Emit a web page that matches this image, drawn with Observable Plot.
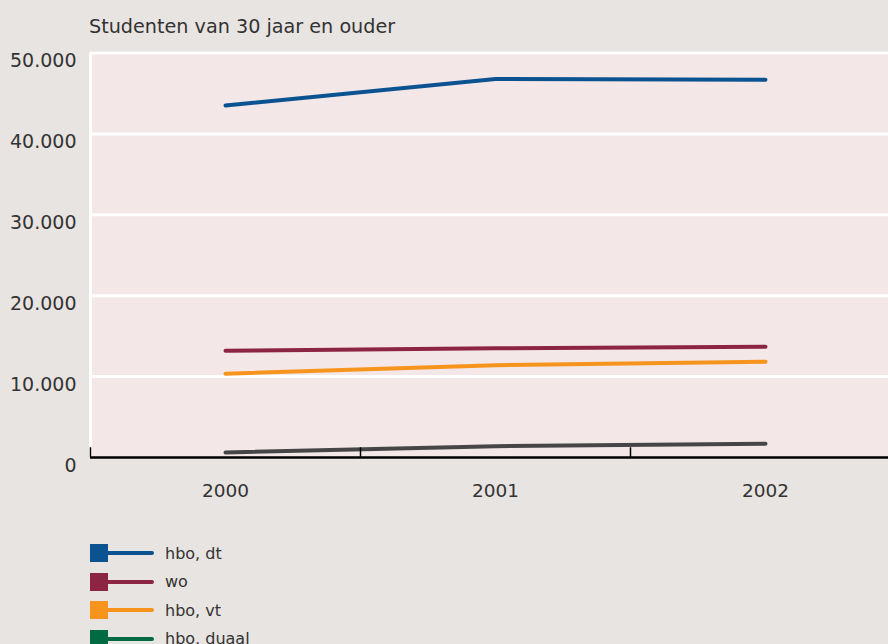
<!DOCTYPE html>
<html><head><meta charset="utf-8">
<script src="https://cdn.jsdelivr.net/npm/d3@7"></script>
<script src="https://cdn.jsdelivr.net/npm/@observablehq/plot@0.6"></script>
<style>
html,body{margin:0;padding:0;background:#e8e4e1;width:888px;height:644px;overflow:hidden;font-family:"DejaVu Sans",sans-serif;color:#333}
#title{position:absolute;left:89px;top:17px;font-size:19.2px;line-height:19px;white-space:nowrap}
#chart{position:absolute;left:0;top:0}
#legend{position:absolute;left:90px;top:539px}
.item{display:flex;align-items:center;height:28.5px;font-size:16px;white-space:nowrap}
.sw{width:18px;height:18px}
.ln{width:46px;height:4px;margin-right:11px;border-radius:0 2px 2px 0}
</style></head><body>
<div id="chart"></div><div id="title">Studenten van 30 jaar en ouder</div><div id="legend"></div>
<script>
const years = [2000, 2001, 2002];
const series = ["hbo, dt", "wo", "hbo, vt", "hbo, duaal"];
const hboDt = [43500, 46800, 46700];
const wo = [13200, 13500, 13700];
const hboVt = [10350, 11400, 11850];
const hboDuaal = [620, 1400, 1700];
const yTicks = [0, 10000, 20000, 30000, 40000, 50000];
const lineColors = ["#0b5290", "#8c2443", "#f7941d", "#464646"];
const legendColors = ["#0b5290", "#8c2443", "#f7941d", "#006a42"];

const values = [hboDt, wo, hboVt, hboDuaal];
const data = series.flatMap((s, i) => years.map((y, j) => ({series: s, year: y, value: values[i][j]})));
const boundaries = years.map(y => y - 0.5);
const fmt = d => d3.format(",")(d).replace(/,/g, ".");

const plot = Plot.plot({
  width: 888, height: 520,
  marginTop: 52.5, marginBottom: 63, marginLeft: 90, marginRight: 0,
  style: {background: "transparent", fontFamily: "DejaVu Sans", fontSize: "18px", color: "#333", overflow: "hidden"},
  x: {type: "linear", domain: [years[0] - 0.5, years[years.length - 1] + 0.5], range: [90, 900], label: null},
  y: {domain: [yTicks[0], yTicks[yTicks.length - 1]], label: null},
  color: {domain: series, range: lineColors},
  marks: [
    Plot.frame({fill: "#f3e7e7", stroke: null}),
    Plot.ruleY(yTicks.filter(d => d > 0), {stroke: "white", strokeWidth: 3}),
    Plot.ruleX([boundaries[0]], {stroke: "white", strokeWidth: 3}),
    Plot.lineY(data, {x: "year", y: "value", stroke: "series", strokeWidth: 4, z: "series"}),
    Plot.ruleY([0], {stroke: "black", strokeWidth: 2.5}),
    Plot.ruleX(boundaries, {y1: 0, y2: 1200, stroke: "black", strokeWidth: 1.5}),
    Plot.axisY({ticks: yTicks, tickSize: 0, tickPadding: 14, dy: 8, tickFormat: fmt, fontSize: 19, fill: "#333", label: null}),
    Plot.axisX({ticks: years, tickSize: 0, tickPadding: 26, tickFormat: d => String(d), fontSize: 18.5, fill: "#333", label: null})
  ]
});
document.getElementById("chart").appendChild(plot);

const legend = document.getElementById("legend");
series.forEach((s, i) => {
  const it = document.createElement("div");
  it.className = "item";
  it.innerHTML = `<div class="sw" style="background:${legendColors[i]}"></div><div class="ln" style="background:${legendColors[i]}"></div><span>${s}</span>`;
  legend.appendChild(it);
});
</script>
</body></html>
